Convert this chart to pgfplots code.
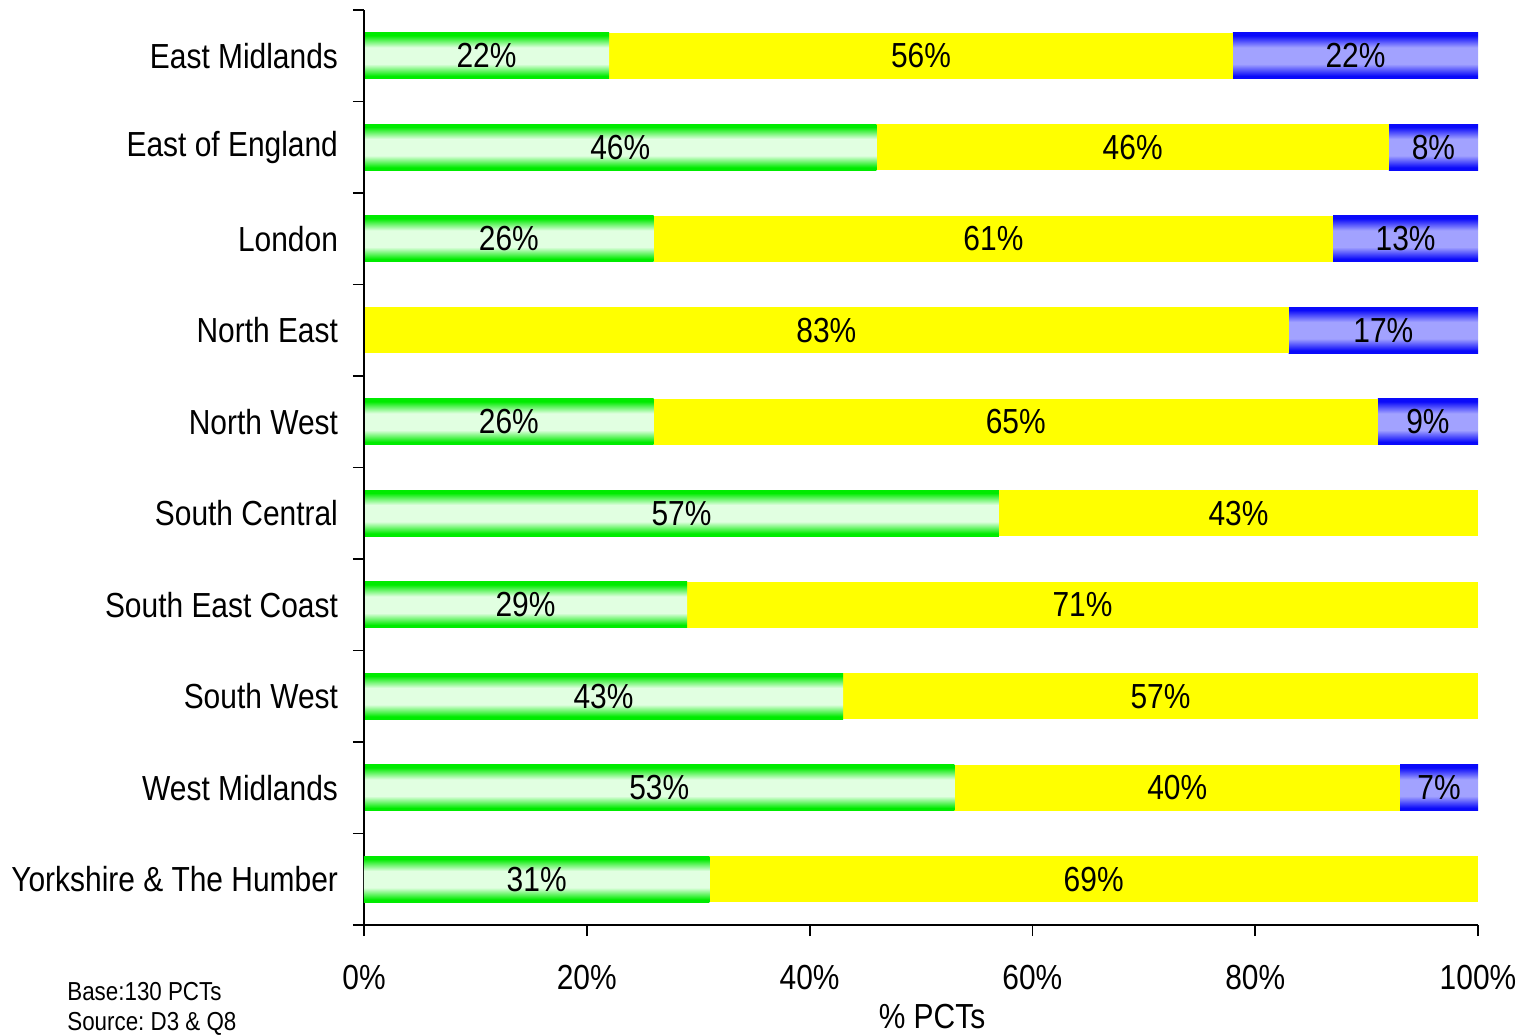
\documentclass[border=0pt]{standalone}
\usepackage{pgfplots}
\pgfplotsset{compat=1.18}
\usepackage{fontspec}
\setmainfont[FakeStretch=0.86]{Liberation Sans}
\frenchspacing
\definecolor{gE}{RGB}{0,235,0}
\definecolor{gM}{RGB}{225,255,225}
\definecolor{bE}{RGB}{10,10,250}
\definecolor{bM}{RGB}{162,162,255}
\definecolor{yel}{RGB}{255,255,0}
\pgfdeclareverticalshading{greenbar}{100bp}{color(0bp)=(gE); color(25bp)=(gE); color(28bp)=(gE); color(41bp)=(gM); color(59bp)=(gM); color(72bp)=(gE); color(75bp)=(gE); color(100bp)=(gE)}
\pgfdeclareverticalshading{bluebar}{100bp}{color(0bp)=(bE); color(25bp)=(bE); color(28bp)=(bE); color(41bp)=(bM); color(59bp)=(bM); color(72bp)=(bE); color(75bp)=(bE); color(100bp)=(bE)}
\newcommand{\bigf}{\fontsize{17.4}{20}\selectfont}
\pgfplotsset{
  G/.style={shading=greenbar, draw=none},
  Y/.style={fill=yel, draw=none},
  B/.style={shading=bluebar, draw=none},
  geom/.style={
    at={(0,0)}, anchor=south west,
    scale only axis, width=557pt, height=457.5pt,
    xbar stacked, bar width=23pt,
    xmin=0, xmax=100, ymin=-0.5, ymax=9.5,
    point meta=explicit,
    nodes near coords={\pgfmathprintnumber{\pgfplotspointmeta}\%},
    every node near coord/.append style={font=\bigf, black},
    /pgf/number format/assume math mode=true,
    clip=false,
  },
  rowax/.style={geom, hide axis},
}
\begin{document}
\begin{tikzpicture}
\path[use as bounding box] (-182pt,-54.5pt) rectangle (577pt,462.5pt);
% East Midlands
\begin{axis}[rowax]
\addplot[G] coordinates {(22,9) [22]};
\addplot[Y] coordinates {(56,9) [56]};
\addplot[B] coordinates {(22,9) [22]};
\end{axis}
% East of England
\begin{axis}[rowax]
\addplot[G] coordinates {(46,8) [46]};
\addplot[Y] coordinates {(46,8) [46]};
\addplot[B] coordinates {(8,8) [8]};
\end{axis}
% London
\begin{axis}[rowax]
\addplot[G] coordinates {(26,7) [26]};
\addplot[Y] coordinates {(61,7) [61]};
\addplot[B] coordinates {(13,7) [13]};
\end{axis}
% North East (no green)
\begin{axis}[rowax]
\addplot[Y] coordinates {(83,6) [83]};
\addplot[B] coordinates {(17,6) [17]};
\end{axis}
% North West
\begin{axis}[rowax]
\addplot[G] coordinates {(26,5) [26]};
\addplot[Y] coordinates {(65,5) [65]};
\addplot[B] coordinates {(9,5) [9]};
\end{axis}
% South Central
\begin{axis}[rowax]
\addplot[G] coordinates {(57,4) [57]};
\addplot[Y] coordinates {(43,4) [43]};
\end{axis}
% South East Coast
\begin{axis}[rowax]
\addplot[G] coordinates {(29,3) [29]};
\addplot[Y] coordinates {(71,3) [71]};
\end{axis}
% South West
\begin{axis}[rowax]
\addplot[G] coordinates {(43,2) [43]};
\addplot[Y] coordinates {(57,2) [57]};
\end{axis}
% West Midlands
\begin{axis}[rowax]
\addplot[G] coordinates {(53,1) [53]};
\addplot[Y] coordinates {(40,1) [40]};
\addplot[B] coordinates {(7,1) [7]};
\end{axis}
% Yorkshire & The Humber (main axis with ticks and labels)
\begin{axis}[geom,
  axis x line*=bottom, axis y line*=left,
  axis line style={line width=1pt, black, -},
  xtick={0,20,...,100},
  xticklabels={0\%,20\%,40\%,60\%,80\%,100\%},
  ytick={0,...,9},
  yticklabels={Yorkshire \& The Humber, West Midlands, South West, South East Coast, South Central, North West, North East, London, East of England, East Midlands},
  minor ytick={-0.5,0.5,...,9.5},
  tick align=outside,
  major tick length=5.5pt, minor tick length=5.5pt,
  major y tick style={draw=none},
  tick style={line width=0.9pt, black},
  ticklabel style={font=\bigf},
  xticklabel style={yshift=-11pt},
  yticklabel style={xshift=-4pt},
  xlabel={\% PCTs},
  xlabel style={font=\bigf, at={(axis description cs:0.5,0)}, anchor=base, yshift=-51.5pt, xshift=5.5pt},
]
\addplot[G] coordinates {(31,0) [31]};
\addplot[Y] coordinates {(69,0) [69]};
\end{axis}
\node[anchor=base west, inner sep=0pt, font=\fontsize{13}{15}\selectfont, align=left] at (-148.5pt,-52.5pt) {Base:130 PCTs\\Source: D3 \& Q8};
\end{tikzpicture}
\end{document}
